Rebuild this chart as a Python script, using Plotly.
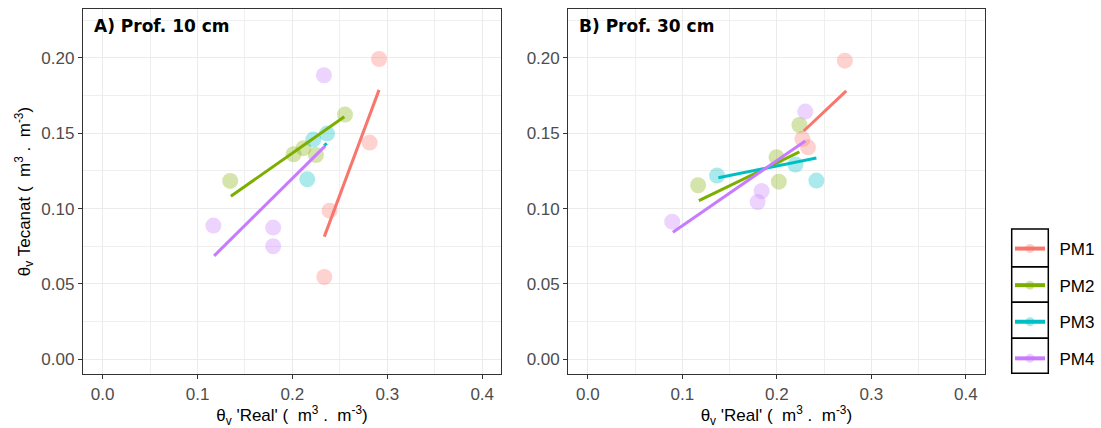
import plotly.graph_objects as go

# ---------------- data ----------------
groups = ["PM1", "PM2", "PM3", "PM4"]
colors = ["#F8766D", "#7CAE00", "#00BFC4", "#C77CFF"]

# Panel A) Prof. 10 cm - observed points
prof10_x = {
    "PM1": [0.2913, 0.2814, 0.2392, 0.2336],
    "PM2": [0.1344, 0.2012, 0.2117, 0.2248, 0.2554],
    "PM3": [0.2220, 0.2364, 0.2156],
    "PM4": [0.2332, 0.1167, 0.1797, 0.1797],
}
prof10_y = {
    "PM1": [0.1993, 0.1438, 0.0986, 0.0546],
    "PM2": [0.1184, 0.1361, 0.1401, 0.1356, 0.1624],
    "PM3": [0.1458, 0.1498, 0.1195],
    "PM4": [0.1885, 0.0887, 0.0874, 0.0750],
}
# Panel A fitted lines (start / end)
fit10_x = {
    "PM1": [0.2336, 0.2913],
    "PM2": [0.1351, 0.2547],
    "PM3": [0.2335, 0.2362],
    "PM4": [0.1175, 0.2346],
}
fit10_y = {
    "PM1": [0.0814, 0.1788],
    "PM2": [0.1082, 0.1610],
    "PM3": [0.1418, 0.1434],
    "PM4": [0.0686, 0.1416],
}

# Panel B) Prof. 30 cm - observed points
prof30_x = {
    "PM1": [0.2720, 0.2271, 0.2330],
    "PM2": [0.1167, 0.1997, 0.2021, 0.2239],
    "PM3": [0.1367, 0.2197, 0.2419],
    "PM4": [0.2301, 0.1839, 0.1797, 0.0893],
}
prof30_y = {
    "PM1": [0.1982, 0.1462, 0.1407],
    "PM2": [0.1155, 0.1341, 0.1179, 0.1555],
    "PM3": [0.1219, 0.1292, 0.1186],
    "PM4": [0.1644, 0.1117, 0.1044, 0.0913],
}
fit30_x = {
    "PM1": [0.2285, 0.2735],
    "PM2": [0.1175, 0.2239],
    "PM3": [0.1381, 0.2419],
    "PM4": [0.0900, 0.2301],
}
fit30_y = {
    "PM1": [0.1515, 0.1781],
    "PM2": [0.1053, 0.1376],
    "PM3": [0.1205, 0.1336],
    "PM4": [0.0843, 0.1449],
}

panel_titles = ["<b>A) Prof. 10 cm</b>", "<b>B) Prof. 30 cm</b>"]
x_title = "θ<sub>v</sub> 'Real' (  m<sup>3</sup> .  m<sup>-3</sup>)"
y_title = "θ<sub>v</sub> Tecanat (  m<sup>3</sup> .  m<sup>-3</sup>)"

# ---------------- figure ----------------
W, H = 1101, 428
fig = go.Figure()

panels = [
    (prof10_x, prof10_y, fit10_x, fit10_y, "x", "y"),
    (prof30_x, prof30_y, fit30_x, fit30_y, "x2", "y2"),
]
for px_, py_, fx, fy, xa, ya in panels:
    for g, c in zip(groups, colors):
        fig.add_trace(go.Scatter(
            x=px_[g], y=py_[g], mode="markers", xaxis=xa, yaxis=ya,
            marker=dict(size=16, color=c, opacity=0.33, line=dict(width=0)),
            showlegend=False, hoverinfo="skip"))
    for g, c in zip(groups, colors):
        fig.add_trace(go.Scatter(
            x=fx[g], y=fy[g], mode="lines", xaxis=xa, yaxis=ya,
            line=dict(color=c, width=3),
            showlegend=False, hoverinfo="skip"))

# legend entries
for g, c in zip(groups, colors):
    fig.add_trace(go.Scatter(
        x=[None], y=[None], mode="lines+markers", name="\u00a0\u00a0" + g, legendgroup=g,
        line=dict(color=c, width=4),
        marker=dict(size=9, color=c, opacity=0.35),
        xaxis="x", yaxis="y"))

tickfont = dict(family="Liberation Sans, Arial, sans-serif", size=17, color="#4D4D4D")
titlefont = dict(family="Liberation Sans, Arial, sans-serif", size=17, color="#000000")

def xaxis(domain, anchor):
    return dict(
        domain=domain, anchor=anchor, range=[-0.0207, 0.4198],
        tickmode="array", tickvals=[0, 0.1, 0.2, 0.3, 0.4],
        ticktext=["0.0", "0.1", "0.2", "0.3", "0.4"],
        ticks="outside", ticklen=4, tickwidth=1, tickcolor="#333333",
        tickfont=tickfont, showline=True, linecolor="#333333", linewidth=1.3,
        mirror=True, showgrid=True, gridcolor="#EBEBEB", gridwidth=1.1,
        minor=dict(dtick=0.05, tick0=0, showgrid=True, gridcolor="#EFEFEF", gridwidth=0.8, ticks=""),
        zeroline=False, automargin=False,
        title=dict(text=x_title, font=titlefont, standoff=2))

def yaxis(domain, anchor, title):
    d = dict(
        domain=domain, anchor=anchor, range=[-0.0098, 0.2325],
        tickmode="array", tickvals=[0, 0.05, 0.1, 0.15, 0.2],
        ticktext=["0.00", "0.05", "0.10", "0.15", "0.20"],
        ticks="outside", ticklen=4, tickwidth=1, tickcolor="#333333",
        tickfont=tickfont, showline=True, linecolor="#333333", linewidth=1.3,
        mirror=True, showgrid=True, gridcolor="#EBEBEB", gridwidth=1.1,
        minor=dict(dtick=0.025, tick0=0, showgrid=True, gridcolor="#EFEFEF", gridwidth=0.8, ticks=""),
        zeroline=False, automargin=False)
    if title:
        d["title"] = dict(text=title, font=titlefont, standoff=6)
    return d

ydom = [(H - 374) / H, (H - 9) / H]
fig.update_layout(
    width=W, height=H,
    margin=dict(l=0, r=0, t=0, b=0),
    paper_bgcolor="white", plot_bgcolor="white",
    xaxis=xaxis([83 / W, 501 / W], "y"),
    yaxis=yaxis(ydom, "x", y_title),
    xaxis2=xaxis([568.3 / W, 984.5 / W], "y2"),
    yaxis2=yaxis(ydom, "x2", None),
    legend=dict(
        x=1010 / W, y=1 - 231 / H, xanchor="left", yanchor="top",
        font=dict(family="Liberation Sans, Arial, sans-serif", size=17, color="#000000"),
        tracegroupgap=11.5, itemwidth=30, bgcolor="rgba(0,0,0,0)",
        traceorder="grouped"),
)

# panel titles
for i, t in enumerate(panel_titles):
    sfx = "" if i == 0 else "2"
    fig.add_annotation(
        text=t, xref="x" + sfx + " domain", yref="y" + sfx + " domain",
        x=0.022, y=1 - 16.5 / 365, xanchor="left", yanchor="middle",
        showarrow=False, font=dict(family="DejaVu Sans, Verdana, sans-serif", size=17, color="#000000"))

# legend key boxes
box_edges = [229, 266.7, 302.3, 338.3, 373.3]
for top, bot in zip(box_edges[:-1], box_edges[1:]):
    fig.add_shape(type="rect", xref="paper", yref="paper",
                  x0=1011.7 / W, x1=1048.3 / W, y0=1 - bot / H, y1=1 - top / H,
                  line=dict(color="#000000", width=1.5), fillcolor="rgba(0,0,0,0)")

fig.write_html("out.html", config={"displayModeBar": False},
               post_script="document.body.style.margin='0';")
